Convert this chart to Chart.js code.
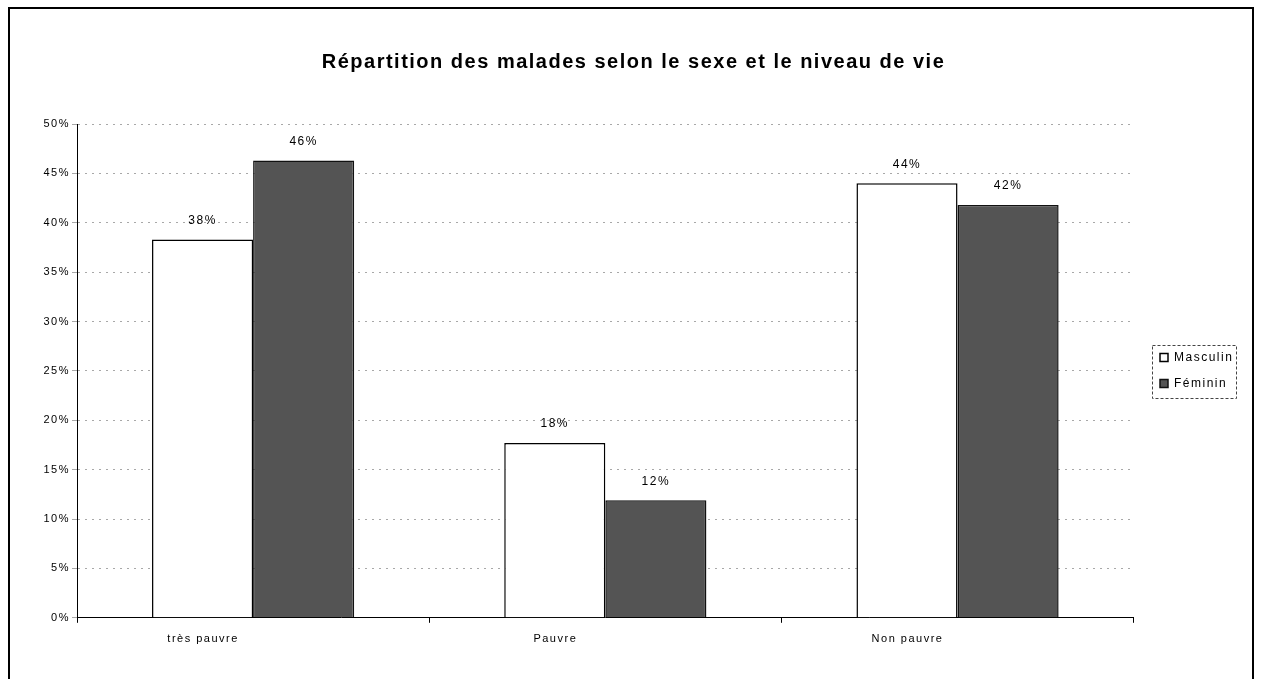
<!DOCTYPE html>
<html lang="fr">
<head>
<meta charset="utf-8">
<title>Répartition des malades</title>
<script src="https://cdn.jsdelivr.net/npm/chart.js@4/dist/chart.umd.min.js"></script>
<style>
    html, body { margin: 0; padding: 0; background: #fff; overflow: hidden; }
    #cadre {
        position: absolute; left: 8px; top: 7px;
        width: 1242px; height: 700px;
        border: 2px solid #000; border-bottom: none;
    }
    #cadre canvas { position: absolute; left: 0; top: 0; }
</style>
</head>
<body>
<div id="cadre"><canvas id="graficoMalades" width="1242" height="670"></canvas></div>
<script>
// Datos (porcentajes)
var categorias = ["très pauvre", "Pauvre", "Non pauvre"];
var masculin = [38.3, 17.7, 44.0];
var feminin = [46.3, 11.9, 41.8];
var etiquetasMasculin = ["38%", "18%", "44%"];
var etiquetasFeminin = ["46%", "12%", "42%"];
var ticksY = [0, 5, 10, 15, 20, 25, 30, 35, 40, 45, 50];

var fuente = "'Liberation Sans', Arial, sans-serif";

// Espaciado de letras (el escaneo original tiene el texto más ancho)
var pluginEspaciado = {
    id: "espaciado",
    beforeUpdate: function (chart) { chart.ctx.letterSpacing = "1.5px"; },
    beforeDraw: function (chart) { chart.ctx.letterSpacing = "1.5px"; }
};

// Etiquetas encima de cada barra
var pluginEtiquetas = {
    id: "etiquetas",
    afterDatasetsDraw: function (chart) {
        var ctx = chart.ctx;
        var textos = [etiquetasMasculin, etiquetasFeminin];
        ctx.save();
        ctx.font = "12px " + fuente;
        ctx.fillStyle = "#000";
        ctx.textAlign = "center";
        ctx.textBaseline = "middle";
        chart.data.datasets.forEach(function (ds, i) {
            chart.getDatasetMeta(i).data.forEach(function (barra, j) {
                ctx.fillText(textos[i][j], barra.x, barra.y - 19);
            });
        });
        ctx.restore();
    }
};

// Mover la leyenda y el título, y dibujar el borde punteado de la leyenda
var pluginCajaLeyenda = {
    id: "cajaLeyenda",
    afterLayout: function (chart) {
        var l = chart.legend;
        var d = 1150 - (l.left + l.options.labels.padding);
        l.left += d;
        l.right += d;
        l.top += 38;
        l.bottom += 38;
        var t = chart.titleBlock;
        t.left += 13;
        t.right += 13;
    },
    afterDraw: function (chart) {
        var l = chart.legend;
        if (!l || !l.legendHitBoxes.length) return;
        var cajas = l.legendHitBoxes;
        var x1 = cajas[0].left - 8;
        var x2 = cajas[0].left + 76;
        var y1 = cajas[0].top - 7;
        var y2 = cajas[cajas.length - 1].top + cajas[cajas.length - 1].height + 8;
        var ctx = chart.ctx;
        ctx.save();
        ctx.strokeStyle = "#444";
        ctx.lineWidth = 1;
        ctx.setLineDash([3, 2]);
        ctx.strokeRect(Math.round(x1) + 0.5, Math.round(y1) + 0.5, Math.round(x2 - x1), Math.round(y2 - y1));
        ctx.restore();
    }
};

var ctx = document.getElementById("graficoMalades").getContext("2d");
var miGrafico = new Chart(ctx, {
    type: "bar",
    data: {
        labels: categorias,
        datasets: [
            {
                label: "Masculin",
                data: masculin,
                backgroundColor: "#ffffff",
                borderColor: "#000",
                borderWidth: 1.5,
            },
            {
                label: "Féminin",
                data: feminin,
                backgroundColor: "#545454",
                borderColor: "#111",
                borderWidth: 1.5,
            },
        ],
    },
    options: {
        responsive: false,
        animation: false,
        layout: { padding: { left: 0, right: 21, top: 0, bottom: 23 } },
        datasets: { bar: { categoryPercentage: 0.574, barPercentage: 1.0 } },
        plugins: {
            title: {
                display: true,
                text: "Répartition des malades selon le sexe et le niveau de vie",
                color: "#000",
                font: { family: fuente, size: 20, weight: "bold" },
                padding: { top: 41, bottom: 50 },
            },
            legend: {
                position: "right",
                align: "center",
                labels: {
                    color: "#000",
                    font: { family: fuente, size: 12 },
                    boxWidth: 8,
                    boxHeight: 8,
                    padding: 14,
                },
            },
            tooltip: { enabled: false },
        },
        scales: {
            x: {
                grid: { drawOnChartArea: false, drawTicks: true, tickLength: 5, color: "#000" },
                border: { display: true, color: "#000", width: 1 },
                ticks: { color: "#000", font: { family: fuente, size: 11 }, padding: 10, labelOffset: -50 },
            },
            y: {
                min: 0,
                max: 50,
                afterFit: function (escala) { escala.width = 67; },
                afterBuildTicks: function (escala) {
                    escala.ticks = ticksY.map(function (v) { return { value: v }; });
                },
                grid: { color: "#a8a8a8", lineWidth: 1, tickLength: 5 },
                border: { display: true, color: "#000", width: 1, dash: [2, 5] },
                ticks: {
                    color: "#000",
                    font: { family: fuente, size: 11 },
                    padding: 2,
                    callback: function (value) {
                        return value + "%";
                    },
                },
            },
        },
    },
    plugins: [pluginEspaciado, pluginEtiquetas, pluginCajaLeyenda],
});
</script>
</body>
</html>
